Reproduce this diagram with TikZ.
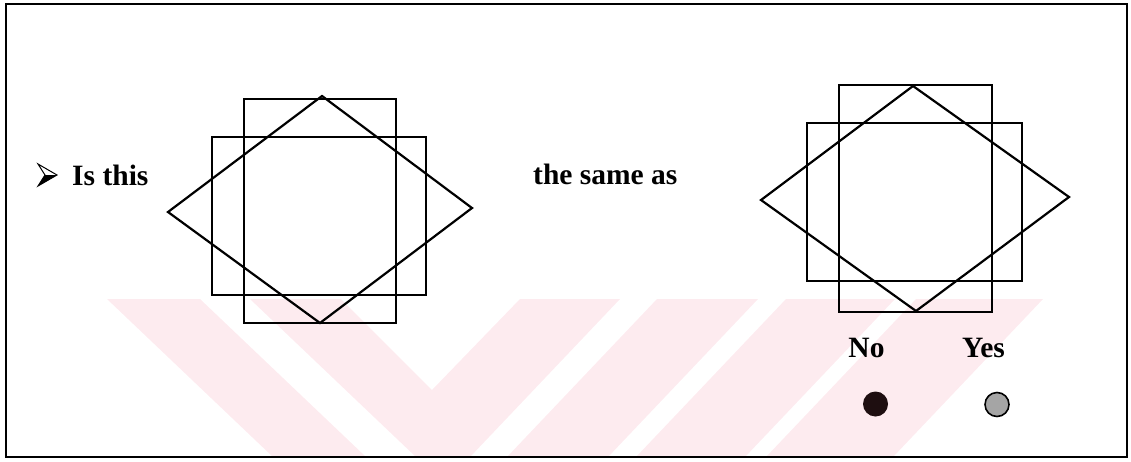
\documentclass[tikz,border=0pt]{standalone}
\usepackage{fontspec}
\setmainfont{Liberation Serif}
\definecolor{wmpink}{RGB}{253,235,239}
\definecolor{dotdark}{RGB}{30,14,16}
\definecolor{dotgrey}{RGB}{165,165,165}
\begin{document}
\begin{tikzpicture}[x=1pt,y=-1pt,
  figline/.style={line width=2.2pt, line join=miter},
  lbl/.style={font=\fontsize{29.5}{32}\selectfont\bfseries, inner sep=0pt, anchor=base west},
  lblc/.style={font=\fontsize{29.5}{32}\selectfont\bfseries, inner sep=0pt, anchor=base},
  wm/.style={fill=wmpink, draw=none}]
\useasboundingbox (0,0) rectangle (1131,461);
% watermark
\fill[wm] (107,299) -- (200,299) -- (366,457) -- (273,457) -- cycle;
\fill[wm] (250,299) -- (341,299) -- (432,390) -- (520,299) -- (620,299) -- (470,457) -- (416,457) -- cycle;
\fill[wm] (657,299) -- (758,299) -- (608,457) -- (507,457) -- cycle;
\fill[wm] (786,299) -- (895,299) -- (745,457) -- (636,457) -- cycle;
\fill[wm] (916,299) -- (1043,299) -- (893,457) -- (766,457) -- cycle;
% border
\draw[line width=2.3pt] (6,4) rectangle (1127,457);
% bullet arrowhead
\coordinate (bt) at (38,164);
\coordinate (btip) at (57,175);
\coordinate (bb) at (38,186);
\coordinate (bn) at (45,175);
\fill (bn) -- (btip) -- (bb) -- cycle;
\draw[line width=1pt, line join=miter] (bt) -- (btip) -- (bb) -- (bn) -- cycle;
% texts
\node[lbl] (isthis) at (72,185) {Is this};
\node[lbl] (sameas) at (533,184) {the same as};
\node[lblc] (no) at (866.5,357) {No};
\node[lblc] (yes) at (983.5,357) {Yes};
% left figure
\draw[figline] (244,99) rectangle (396,323);
\draw[figline] (212,137) rectangle (426,295);
\draw[figline] (322,96) -- (472,208) -- (320,323) -- (168,212) -- cycle;
% right figure
\draw[figline] (839,85) rectangle (992,312);
\draw[figline] (807,123) rectangle (1022,281);
\draw[figline] (913,86) -- (1069,197) -- (916,311) -- (761,200) -- cycle;
% answer dots
\node[circle, minimum size=25pt, inner sep=0pt, fill=dotdark] (nodot) at (875.5,404) {};
\node[circle, minimum size=24pt, inner sep=0pt, fill=dotgrey, draw=black, line width=1.6pt] (yesdot) at (997,404.5) {};
\end{tikzpicture}
\end{document}
